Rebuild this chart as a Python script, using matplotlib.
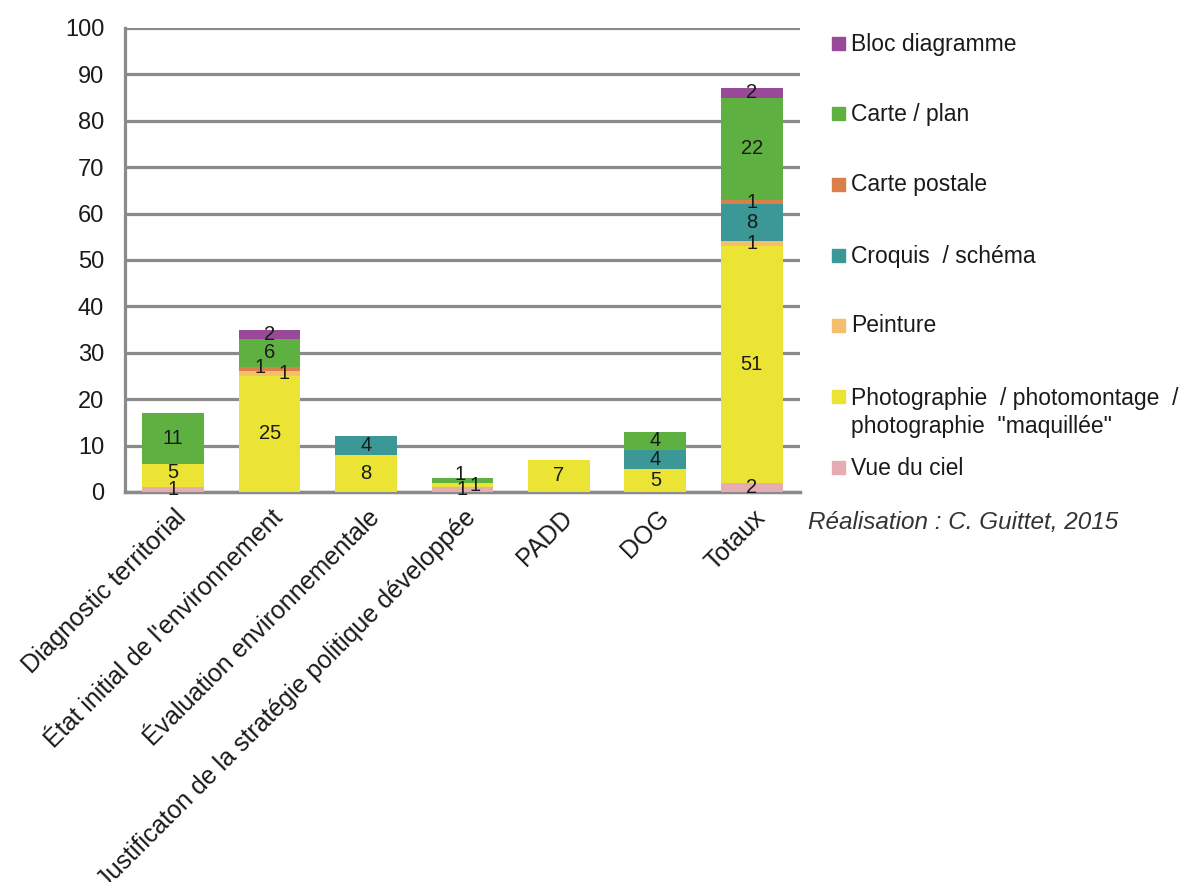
import matplotlib
matplotlib.use("Agg")
import matplotlib.pyplot as plt
from matplotlib.patches import Rectangle
import matplotlib.transforms as mtransforms
import numpy as np

plt.rcParams['font.family'] = ['Liberation Sans', 'DejaVu Sans']

categories = ["Diagnostic territorial",
              "État initial de l'environnement",
              "Évaluation environnementale",
              "Justificaton de la stratégie politique développée",
              "PADD", "DOG", "Totaux"]

# series, bottom to top of stack
vue_du_ciel   = [1, 0, 0, 1, 0, 0, 2]
photographie  = [5, 25, 8, 1, 7, 5, 51]
peinture      = [0, 1, 0, 0, 0, 0, 1]
croquis       = [0, 0, 4, 0, 0, 4, 8]
carte_postale = [0, 1, 0, 0, 0, 0, 1]
carte_plan    = [11, 6, 0, 1, 0, 4, 22]
bloc_diagramme = [0, 2, 0, 0, 0, 0, 2]

series_names = ["Vue du ciel",
                "Photographie  / photomontage  /\nphotographie  \"maquillée\"",
                "Peinture", "Croquis  / schéma", "Carte postale",
                "Carte / plan", "Bloc diagramme"]
series_values = [vue_du_ciel, photographie, peinture, croquis,
                 carte_postale, carte_plan, bloc_diagramme]
colors = ["#e5adb3", "#ebe435", "#f5bd6c", "#3b9896", "#d9804a",
          "#5eb141", "#984a99"]

yticks = [0, 10, 20, 30, 40, 50, 60, 70, 80, 90, 100]

# label nudges (pixels) for crowded small segments: (series index, category index) -> (dx, dy)
label_nudge = {(2, 1): (14, 0), (4, 1): (-10, 2), (1, 3): (13, 0), (5, 3): (-2, 6),
               (1, 0): (0, 3)}

W, H = 1187, 882
fig = plt.figure(figsize=(W / 100, H / 100), dpi=100)
ax = fig.add_axes([125 / W, 1 - 492 / H, (800 - 125) / W, (492 - 28) / H])

x = np.arange(len(categories))
bottom = np.zeros(len(categories))
for si, (vals, col) in enumerate(zip(series_values, colors)):
    vals = np.array(vals, dtype=float)
    ax.bar(x, vals, bottom=bottom, width=0.64, color=col, zorder=3)
    for ci, v in enumerate(vals):
        if v > 0:
            dx, dy = label_nudge.get((si, ci), (0, 0))
            ax.annotate(f"{int(v)}", (x[ci], bottom[ci] + v / 2),
                        xytext=(dx * 0.72, dy * 0.72), textcoords="offset points",
                        ha="center", va="center", fontsize=14.5, color="#1a1a1a",
                        zorder=5)
    bottom += vals

ax.set_ylim(0, 100)
ax.set_xlim(-0.5, len(categories) - 0.5)
ax.set_yticks(yticks)
ax.set_yticklabels([str(t) for t in yticks], fontsize=17, color="#1a1a1a")
ax.yaxis.grid(True, color="#8a8a8a", linewidth=2.3, zorder=0)
ax.set_axisbelow(True)
ax.tick_params(axis="y", length=0, pad=15)
ax.tick_params(axis="x", length=0, pad=4)
ax.set_xticks(x)
ax.set_xticklabels(categories, rotation=45, ha="right", rotation_mode="anchor",
                   fontsize=18, color="#1a1a1a")
offset = mtransforms.ScaledTranslation(1 / 100, -8 / 100, fig.dpi_scale_trans)
for lab in ax.get_xticklabels():
    lab.set_transform(lab.get_transform() + offset)

for s in ["top", "right"]:
    ax.spines[s].set_visible(False)
ax.spines["left"].set_color("#8a8a8a")
ax.spines["left"].set_linewidth(2.3)
ax.spines["bottom"].set_color("#8a8a8a")
ax.spines["bottom"].set_linewidth(2.5)

# manual legend (top to bottom = reverse stacking order)
leg_y = [44, 114, 185, 256, 326, 397, 468]
for i, (name, col) in enumerate(zip(series_names[::-1], colors[::-1])):
    yc = leg_y[i]
    fig.patches.append(Rectangle((832 / W, 1 - (yc + 6) / H), 13 / W, 13 / H,
                                 transform=fig.transFigure, color=col))
    if "\n" in name:
        fig.text(851 / W, 1 - (yc - 10) / H, name, fontsize=16.5, color="#1a1a1a",
                 va="top", ha="left", linespacing=1.3)
    else:
        fig.text(851 / W, 1 - yc / H, name, fontsize=16.5, color="#1a1a1a",
                 va="center", ha="left")

fig.text(808 / W, 1 - 522 / H, "Réalisation : C. Guittet, 2015", fontsize=17.5,
         style="italic", color="#333333", va="center", ha="left")

fig.savefig("out.png", dpi=100)
